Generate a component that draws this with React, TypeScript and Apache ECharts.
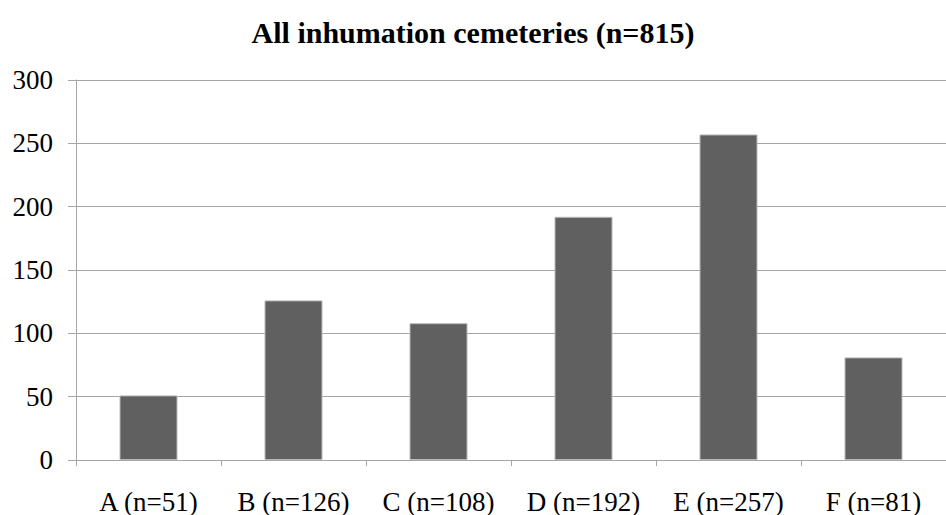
import React, { useEffect, useRef } from "react";
import * as echarts from "echarts";

const titleText = "All inhumation cemeteries (n=815)";
const categories = ["A (n=51)", "B (n=126)", "C (n=108)", "D (n=192)", "E (n=257)", "F (n=81)"];
const values = [51, 126, 108, 192, 257, 81];

export default function App() {
  const ref = useRef<HTMLDivElement>(null);
  useEffect(() => {
    if (!ref.current) return;
    const chart = echarts.init(ref.current, null, { renderer: "svg" });
    const font = "Liberation Serif";
    chart.setOption({
      animation: false,
      backgroundColor: "#ffffff",
      textStyle: { fontFamily: font },
      title: {
        text: titleText,
        left: "center",
        top: 12,
        textStyle: { fontFamily: font, fontSize: 30, fontWeight: "bold", color: "#000" },
      },
      grid: { left: 76, right: -11, top: 80, bottom: 52, containLabel: false },
      xAxis: {
        type: "category",
        data: categories,
        axisLine: { lineStyle: { color: "#a6a6a6", width: 1 } },
        axisTick: { show: true, length: 6, lineStyle: { color: "#a6a6a6" } },
        axisLabel: { fontFamily: font, fontSize: 27, color: "#000", margin: 28, interval: 0 },
      },
      yAxis: {
        type: "value",
        min: 0,
        max: 300,
        interval: 50,
        axisLine: { show: true, lineStyle: { color: "#a6a6a6", width: 1 } },
        axisTick: { show: true, length: 8, lineStyle: { color: "#a6a6a6" } },
        splitLine: { lineStyle: { color: "#a6a6a6", width: 1 } },
        axisLabel: { fontFamily: font, fontSize: 27, color: "#000", margin: 23 },
      },
      series: [
        {
          type: "bar",
          data: values,
          barWidth: "40%",
          itemStyle: { color: "#606060", borderColor: "#b8b8b8", borderWidth: 1 },
        },
      ],
    });
    return () => chart.dispose();
  }, []);
  return <div ref={ref} style={{ width: 946, height: 515, position: "fixed", left: 0, top: 0 }} />;
}
